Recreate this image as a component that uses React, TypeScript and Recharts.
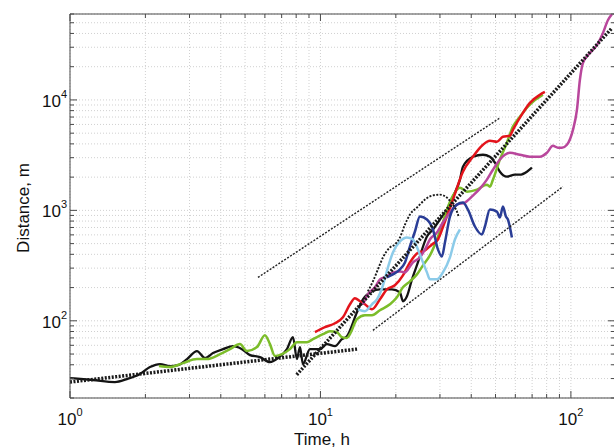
import React from "react";
import { LineChart, Line, XAxis, YAxis, CartesianGrid, ReferenceLine } from "recharts";

// log-log distance vs time
const xTicks = [1, 2, 3, 4, 5, 6, 7, 8, 9, 10, 20, 30, 40, 50, 60, 70, 80, 90, 100];
const yTicks = [
  20, 30, 40, 50, 60, 70, 80, 90, 100, 200, 300, 400, 500, 600, 700, 800, 900, 1000, 2000, 3000, 4000, 5000, 6000,
  7000, 8000, 9000, 10000, 20000, 30000, 40000, 50000, 60000,
];

const blackT = [
  1.0, 1.235, 1.512, 1.688, 1.903, 2.086, 2.287, 2.507, 2.698, 2.932, 3.214, 3.459, 3.723, 4.081, 4.474, 4.86, 5.231,
  5.735, 6.287, 6.767, 7.35, 7.767, 8.057, 8.283, 8.515, 9.08, 9.954, 10.61, 11.43, 12.18, 12.76, 13.99, 14.78, 16.06,
  17.28, 19.29, 20.77, 21.35, 22.15, 23.2, 24.5, 26.62, 28.13, 29.99, 31.99, 33.81, 36.06, 37.06, 40.62, 44.55, 47.49,
  49.73, 52.07, 55.53, 59.77, 62.58, 66.74, 69.88,
];
const blackD = [
  30.3, 29.1, 27.9, 29.7, 33.0, 38.1, 40.6, 38.9, 39.7, 45.0, 53.2, 46.0, 51.0, 55.4, 59.0, 55.4, 48.9, 46.9, 42.3,
  46.0, 55.4, 71.1, 45.0, 57.8, 40.6, 55.4, 55.4, 61.5, 59.0, 68.2, 72.6, 119.5, 156.6, 184.9, 192.9, 192.9, 181.2,
  150.3, 166.7, 237.4, 338, 580, 671, 826, 1017, 1332, 1897, 2485, 3059, 3189, 3059, 2701, 2240, 2019, 2104, 2104,
  2240, 2434,
];

const greenT = [
  2.266, 2.507, 2.826, 3.214, 3.523, 3.971, 4.352, 4.771, 5.089, 5.579, 6.002, 6.287, 6.582, 7.02, 7.554, 8.057, 8.834,
  9.335, 10.23, 10.91, 11.64, 12.18, 12.76, 13.12, 13.99, 15.05, 16.06, 17.28, 18.94, 20.2, 21.35, 22.77, 24.28, 25.66,
  27.36, 29.18, 30.55, 31.99, 33.81, 36.06, 38.44, 42.15, 46.2, 47.49, 48.83, 52.07, 55.53, 58.68, 62.58, 66.74, 70.52,
  75.19, 77.29,
];
const greenD = [
  38.9, 38.1, 41.4, 45.0, 45.0, 49.9, 55.4, 61.5, 53.2, 57.8, 74.1, 61.5, 47.9, 49.9, 55.4, 64.1, 64.1, 68.2, 75.7,
  80.5, 78.9, 71.1, 69.7, 75.7, 103.4, 112.3, 112.3, 124.6, 141.2, 163.3, 201.1, 227.8, 263.4, 317.6, 390.9, 545.1,
  729.3, 1017, 1360, 1606, 1478, 1540, 1710, 1640, 1897, 2886, 4109, 5729, 7054, 8502, 9634, 10690, 11140,
];

const redT = [
  9.506, 10.42, 11.43, 12.3, 13.12, 13.73, 14.38, 15.05, 16.06, 17.28, 18.43, 19.83, 21.35, 22.77, 24.28, 26.14, 27.87,
  29.45, 31.41, 33.81, 37.06, 40.62, 44.55, 47.49, 50.65, 53.52, 57.08, 58.68, 64.33, 68.61, 75.19, 78.73,
];
const redD = [
  78.9, 87.5, 95.1, 107.8, 141.2, 160.0, 150.3, 141.2, 127.2, 156.6, 192.9, 209.6, 258.0, 338.0, 407.5, 433.7, 491.3,
  545.1, 792.4, 1252, 2240, 3059, 3926, 4266, 4178, 4636, 4733, 5360, 7632, 9396, 11140, 11810,
];

const magentaT = [
  14.78, 15.47, 16.51, 17.28, 18.43, 19.47, 20.77, 21.75, 22.36, 23.4, 24.96, 26.14, 27.36, 29.18, 30.83, 32.89, 35.07,
  37.75, 40.62, 43.32, 46.2, 48.83, 52.07, 54.51, 57.08, 62.58, 68.61, 75.19, 80.19, 84.75, 88.74, 92.07, 96.4, 101.9,
  105.7, 108.6, 111.7, 119.1, 127.0, 134.2, 140.5, 145.8,
];
const magentaD = [
  141.2, 173.9, 201.1, 237.4, 252.7, 274.5, 280.3, 274.5, 292.2, 338.0, 375.0, 442.9, 545.1, 630.5, 776.2, 955.3, 1128,
  1176, 1360, 1573, 1897, 2334, 2886, 3189, 3324, 3189, 3059, 3059, 3324, 3843, 3688, 3688, 3926, 5360, 8122, 15150,
  21570, 26560, 31360, 40250, 52720, 59730,
];

const blueT = [
  18.43, 19.47, 20.77, 21.75, 22.77, 23.84, 24.96, 26.62, 28.13, 29.45, 30.55, 31.41, 32.89, 35.07, 37.06, 38.8, 41.38,
  44.13, 45.36, 47.49, 50.65, 52.07, 53.52, 55.02, 56.04, 58.14,
];
const blueD = [
  247.5, 263.4, 292.2, 338.0, 471.3, 643.9, 879.0, 826.0, 671.0, 442.9, 382.8, 512.2, 879.0, 1128, 1176, 1017, 714.3,
  604.8, 714.3, 1017, 975.5, 861.0, 1082, 879.0, 826.0, 568.2,
];

const lightBlueT = [
  14.11, 15.05, 16.06, 16.81, 17.77, 18.6, 19.47, 20.77, 22.15, 23.4, 24.5, 25.66, 26.62, 27.36, 29.18, 30.83, 32.89,
  34.43, 36.06,
];
const lightBlueD = [
  127.2, 122.0, 141.2, 156.6, 209.6, 304.6, 416.1, 522.9, 568.2, 545.1, 442.9, 338.0, 274.5, 237.4, 237.4, 274.5, 375.0,
  545.1, 671.0,
];

const dottedT = [
  15.47, 16.2, 16.96, 17.77, 18.94, 19.83, 20.77, 21.75, 22.77, 24.5, 26.14, 27.87, 29.99, 31.99, 33.5, 35.07, 35.72,
];
const dottedD = [184.9, 227.8, 292.2, 375.0, 461.6, 491.3, 568.2, 744.3, 916.6, 1082, 1252, 1360, 1388, 1305, 1152, 975.5, 861.0];

// straight reference lines (end points)
const slowFitT = [1, 14.0];
const slowFitD = [27.9, 55.4];
const fastFitT = [8.04, 145.8];
const fastFitD = [32.5, 44700];
const upperBoundT = [5.63, 52.1];
const upperBoundD = [247, 6880];
const lowerBoundT = [16.2, 92.9];
const lowerBoundD = [82, 1640];

const toPoints = (t: number[], d: number[]) => t.map((x, i) => ({ x, y: d[i] }));

const FONT = "'Liberation Sans', Arial, Helvetica, sans-serif";
const FRAME = "#4a4a4a";
const W = 616;
const H = 448;
const TOP = 14;
const RIGHT = 615;

const isDecade = (v: number) => Math.abs(Math.log10(v) - Math.round(Math.log10(v))) < 1e-9;

const XTick = (props: any) => {
  const { x, y, payload } = props;
  const v = payload.value;
  const major = isDecade(v);
  const len = major ? 7 : 4;
  return (
    <g>
      <line x1={x} x2={x} y1={y} y2={y - len} stroke={FRAME} />
      <line x1={x} x2={x} y1={TOP} y2={TOP + len} stroke={FRAME} />
      {major && (
        <text x={x} y={y + 27} textAnchor="middle" fontSize={17} fill="#111" fontFamily={FONT}>
          10
          <tspan fontSize={11} dy={-9}>
            {Math.round(Math.log10(v))}
          </tspan>
        </text>
      )}
    </g>
  );
};

const YTick = (props: any) => {
  const { x, y, payload } = props;
  const v = payload.value;
  const major = isDecade(v);
  const len = major ? 7 : 4;
  return (
    <g>
      <line x1={x} x2={x + len} y1={y} y2={y} stroke={FRAME} />
      <line x1={RIGHT - len} x2={RIGHT} y1={y} y2={y} stroke={FRAME} />
      {major && (
        <text x={x - 3} y={y + 7} textAnchor="end" fontSize={17} fill="#111" fontFamily={FONT}>
          10
          <tspan fontSize={11} dy={-9}>
            {Math.round(Math.log10(v))}
          </tspan>
        </text>
      )}
    </g>
  );
};

const series = [
  { name: "black", data: toPoints(blackT, blackD), color: "#141414", width: 2.3 },
  { name: "green", data: toPoints(greenT, greenD), color: "#7cbd2a", width: 2.5 },
  { name: "red", data: toPoints(redT, redD), color: "#e3141c", width: 2.5 },
  { name: "magenta", data: toPoints(magentaT, magentaD), color: "#b9479c", width: 2.5 },
  { name: "blue", data: toPoints(blueT, blueD), color: "#2a3d96", width: 2.5 },
  { name: "lightblue", data: toPoints(lightBlueT, lightBlueD), color: "#8ccbe9", width: 2.5 },
];

export default function App() {
  return (
    <div style={{ position: "absolute", left: 0, top: 0, width: 614, height: 448, overflow: "hidden", background: "#fff" }}>
      <LineChart width={W} height={H} margin={{ top: TOP, right: W - RIGHT, bottom: 0, left: 0 }}>
        <CartesianGrid stroke="#d0d0d0" strokeDasharray="1 2" />
        <XAxis
          dataKey="x"
          type="number"
          scale="log"
          domain={[1, 150]}
          ticks={xTicks}
          interval={0}
          allowDataOverflow
          height={50}
          axisLine={{ stroke: FRAME }}
          tickLine={false}
          tickSize={0}
          tickMargin={0}
          tick={<XTick />}
        />
        <YAxis
          dataKey="y"
          type="number"
          scale="log"
          domain={[20, 60000]}
          ticks={yTicks}
          interval={0}
          allowDataOverflow
          width={70}
          axisLine={{ stroke: FRAME }}
          tickLine={false}
          tickSize={0}
          tickMargin={0}
          tick={<YTick />}
        />
        <ReferenceLine y={60000} stroke={FRAME} />
        {series.map((s) => (
          <Line
            key={s.name}
            data={s.data}
            dataKey="y"
            type="monotone"
            stroke={s.color}
            strokeWidth={s.width}
            dot={false}
            isAnimationActive={false}
          />
        ))}
        <Line
          data={toPoints(dottedT, dottedD)}
          dataKey="y"
          type="monotone"
          stroke="#1a1a1a"
          strokeWidth={1.9}
          strokeDasharray="2 1.5"
          dot={false}
          isAnimationActive={false}
        />
        <Line
          data={toPoints(upperBoundT, upperBoundD)}
          dataKey="y"
          stroke="#222"
          strokeWidth={1.4}
          strokeDasharray="2 1.5"
          dot={false}
          isAnimationActive={false}
        />
        <Line
          data={toPoints(lowerBoundT, lowerBoundD)}
          dataKey="y"
          stroke="#222"
          strokeWidth={1.4}
          strokeDasharray="2 1.5"
          dot={false}
          isAnimationActive={false}
        />
        <Line
          data={toPoints(slowFitT, slowFitD)}
          dataKey="y"
          stroke="#1a1a1a"
          strokeWidth={3.5}
          strokeDasharray="2 1.5"
          dot={false}
          isAnimationActive={false}
        />
        <Line
          data={toPoints(fastFitT, fastFitD)}
          dataKey="y"
          stroke="#1a1a1a"
          strokeWidth={3.5}
          strokeDasharray="2 1.5"
          dot={false}
          isAnimationActive={false}
        />
      </LineChart>
      <svg width={614} height={448} style={{ position: "absolute", left: 0, top: 0, pointerEvents: "none" }}>
        <text x={322} y={445} textAnchor="middle" fontSize={17} fill="#111" fontFamily={FONT}>
          Time, h
        </text>
        <text
          x={29}
          y={208}
          textAnchor="middle"
          fontSize={17}
          fill="#111"
          fontFamily={FONT}
          transform="rotate(-90 29 208)"
        >
          Distance, m
        </text>
      </svg>
    </div>
  );
}
